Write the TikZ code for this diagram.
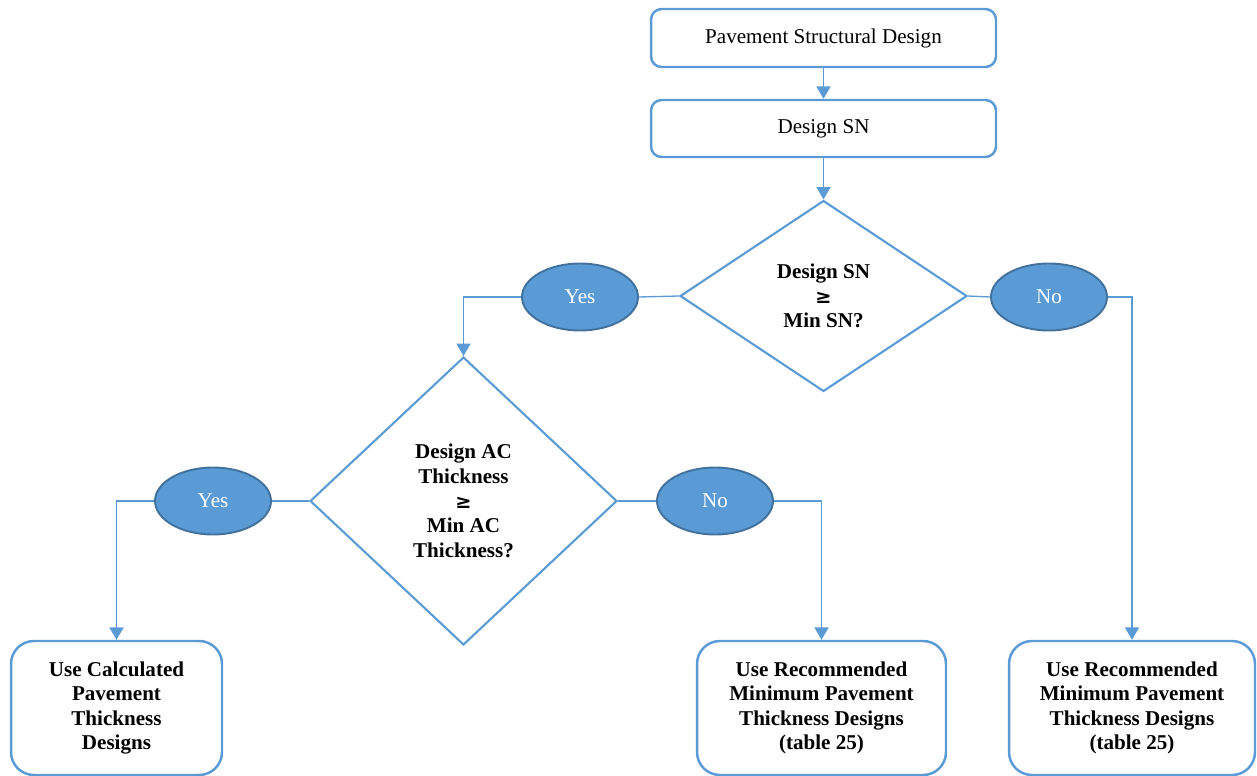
\documentclass[tikz,border=0pt]{standalone}
\usepackage{fontspec}
\setmainfont{Liberation Serif}
\newfontfamily\symfont{DejaVu Sans}
\usetikzlibrary{shapes.geometric,arrows.meta}
\definecolor{lblue}{HTML}{5B9BD5}
\definecolor{dblue}{HTML}{41719C}
\newcommand{\geqsym}{{\symfont\fontsize{11}{14}\selectfont ≥}}
\begin{document}
\begin{tikzpicture}[x=0.02cm,y=-0.02cm,
  txt/.style={font=\fontsize{12}{14}\selectfont,align=center},
  topbox/.style={txt,draw=lblue,line width=1.4pt,rounded corners=6pt,inner sep=0pt,minimum width=6.9cm},
  endbox/.style={txt,font=\bfseries\fontsize{12}{14}\selectfont,draw=lblue,line width=1.4pt,rounded corners=13pt,inner sep=0pt,minimum height=2.68cm},
  decision/.style={txt,font=\bfseries\fontsize{12}{14}\selectfont,diamond,aspect=1,draw=lblue,line width=1.2pt,inner sep=0pt},
  answer/.style={ellipse,fill=lblue,draw=dblue,line width=1.1pt,text=white,font=\fontsize{12}{14}\selectfont,inner sep=0pt,minimum width=2.32cm,minimum height=1.34cm},
  link/.style={draw=lblue,line width=0.75pt},
  arr/.style={link,-{Triangle[width=8pt,length=7pt]}}
]
\useasboundingbox (0,0) rectangle (1257,776);

\node[topbox,minimum height=1.16cm] (start) at (823.5,38) {\raisebox{-1pt}{Pavement Structural Design}};
\node[topbox,minimum height=1.14cm] (dsn) at (823.5,128.5) {\raisebox{-1pt}{Design SN}};
\node[decision,minimum width=5.74cm,minimum height=3.82cm] (d1) at (823.5,296) {Design SN\\\geqsym\\Min SN?};
\node[answer] (yes1) at (580,297) {Yes};
\node[answer] (no1) at (1049,297) {No};
\node[decision,minimum width=6.14cm,minimum height=5.76cm] (d2) at (463.5,501) {Design AC\\Thickness\\\geqsym\\Min AC\\Thickness?};
\node[answer] (yes2) at (213,501) {Yes};
\node[answer] (no2) at (715,501) {No};
\node[endbox,minimum width=4.22cm] (calc) at (116.5,708) {Use Calculated\\Pavement\\Thickness\\Designs};
\node[endbox,minimum width=4.98cm] (rec1) at (821.5,708) {Use Recommended\\Minimum Pavement\\Thickness Designs\\(table 25)};
\node[endbox,minimum width=4.92cm] (rec2) at (1132,708) {Use Recommended\\Minimum Pavement\\Thickness Designs\\(table 25)};

\draw[arr] (start) -- (dsn);
\draw[arr] (dsn) -- (d1.north);
\draw[link] (d1.west) -- (yes1.east);
\draw[arr] (yes1.west) -| (d2.north);
\draw[link] (d1.east) -- (no1.west);
\draw[arr] (no1.east) -| (rec2.north);
\draw[link] (d2.west) -- (yes2.east);
\draw[arr] (yes2.west) -| (calc.north);
\draw[link] (d2.east) -- (no2.west);
\draw[arr] (no2.east) -| (rec1.north);
\end{tikzpicture}
\end{document}
